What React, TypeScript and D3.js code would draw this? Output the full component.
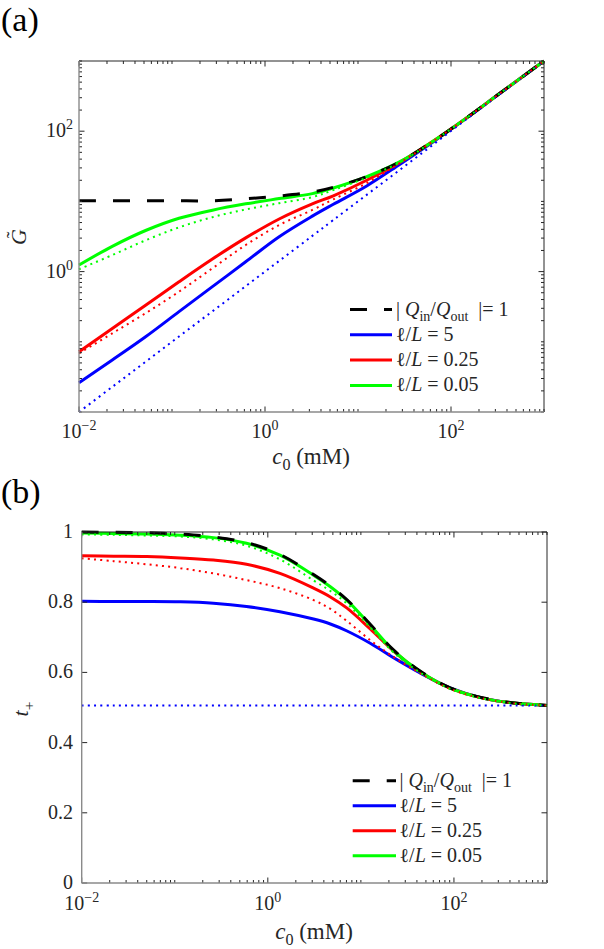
import { useEffect, useRef } from 'react'
import * as d3 from 'd3'

// (a) dimensionless conductance vs bulk concentration c0 (mM)
const cA = [0.01, 0.0228, 0.052, 0.119, 0.272, 0.62, 1.42, 3.23, 5.43, 12.4, 28.3, 64.6, 148, 336, 1000]
const gQ1 = [10.2, 10.2, 10.2, 10.2, 10.2, 10.9, 11.9, 13.6, 15.9, 22.5, 36.8, 72.4, 155.6, 346.7, 1000]
const gBlue = [0.0261, 0.0551, 0.118, 0.269, 0.61, 1.38, 3.14, 6.17, 9.1, 16.6, 33.9, 70.8, 155, 347, 1000]
const gBlueDot = [0.01, 0.0228, 0.052, 0.119, 0.272, 0.62, 1.42, 3.23, 5.43, 12.4, 28.3, 64.6, 150, 340, 1000]
const gRed = [0.0723, 0.155, 0.331, 0.716, 1.51, 3.02, 5.62, 9.23, 12.0, 20.0, 36.3, 72.4, 155.6, 346.7, 1000]
const gRedDot = [0.0685, 0.132, 0.255, 0.518, 1.114, 2.39, 4.61, 7.55, 10.7, 18.2, 35.5, 72.4, 155.6, 346.7, 1000]
const gGreen = [1.24, 2.29, 3.85, 5.75, 7.5, 9.23, 10.96, 12.9, 15.5, 22.5, 36.8, 72.4, 155.6, 346.7, 1000]
const gGreenDot = [1.08, 1.72, 2.79, 4.27, 5.96, 7.67, 9.44, 11.5, 14.5, 21.9, 36.3, 72.4, 155.6, 346.7, 1000]

// (b) transference number t+ vs c0 (mM)
const cB = [0.01, 0.022, 0.05, 0.115, 0.26, 0.59, 1.35, 3.1, 4.7, 7.1, 12.6, 22.4, 43.7, 91, 209, 468, 1000]
const tQ1 = [1.0, 0.999, 0.998, 0.994, 0.986, 0.97, 0.936, 0.879, 0.846, 0.807, 0.737, 0.664, 0.603, 0.556, 0.527, 0.512, 0.506]
const tBlue = [0.803, 0.802, 0.802, 0.801, 0.797, 0.788, 0.773, 0.752, 0.738, 0.718, 0.683, 0.642, 0.598, 0.556, 0.526, 0.512, 0.506]
const tBlueDot = [0.506, 0.506, 0.506, 0.506, 0.506, 0.506, 0.506, 0.506, 0.506, 0.506, 0.506, 0.506, 0.506, 0.506, 0.506, 0.506, 0.506]
const tRed = [0.932, 0.931, 0.93, 0.926, 0.92, 0.908, 0.882, 0.84, 0.815, 0.783, 0.724, 0.661, 0.601, 0.555, 0.526, 0.512, 0.506]
const tRedDot = [0.925, 0.917, 0.908, 0.897, 0.882, 0.863, 0.84, 0.806, 0.781, 0.746, 0.692, 0.644, 0.597, 0.553, 0.525, 0.511, 0.506]
const tGreen = [0.997, 0.996, 0.994, 0.991, 0.984, 0.968, 0.934, 0.877, 0.844, 0.805, 0.735, 0.662, 0.602, 0.555, 0.526, 0.512, 0.506]
const tGreenDot = [0.993, 0.992, 0.99, 0.987, 0.979, 0.961, 0.922, 0.862, 0.832, 0.796, 0.728, 0.657, 0.599, 0.553, 0.525, 0.511, 0.506]

const xMajor = [0.01, 1, 100]
const yMajorA = [1, 100]
const yTicksB = [0, 0.2, 0.4, 0.6, 0.8, 1]
const ratios = ['5', '0.25', '0.05']

const FONT = '"Liberation Serif", "DejaVu Serif", "Times New Roman", serif'
const TXT = '#262626'
const BLUE = '#0000ff', RED = '#ff0000', GREEN = '#00ff00'

type Kind = 'solid' | 'dash' | 'dot'
type Part = string | { t: string; i?: boolean; sub?: boolean }

function styled(sel: any, kind: Kind, color: string) {
  sel.attr('fill', 'none').attr('stroke', color)
  if (kind === 'solid') sel.attr('stroke-width', 3)
  if (kind === 'dash') sel.attr('stroke-width', 3).attr('stroke-dasharray', '17 17')
  if (kind === 'dot') sel.attr('stroke-width', 2).attr('stroke-dasharray', '2 4.2')
  return sel
}

function txt(g: any, size: number) {
  return g.append('text').style('font-family', FONT).style('font-size', size + 'px').attr('fill', TXT)
}

function rich(t: any, parts: Part[], size: number) {
  let shift = 0
  parts.forEach(p => {
    const q = typeof p === 'string' ? { t: p } : p
    const want = q.sub ? size * 0.28 : 0
    const s = t.append('tspan').text(q.t)
    if (want !== shift) { s.attr('dy', want - shift); shift = want }
    if (q.i) s.style('font-style', 'italic')
    if (q.sub) s.style('font-size', size * 0.7 + 'px')
  })
}

function pow10(g: any, x: number, y: number, e: number, anchor: string) {
  const t = txt(g, 20).attr('x', x).attr('y', y).attr('text-anchor', anchor)
  t.append('tspan').text('10')
  t.append('tspan').attr('dy', -8).style('font-size', '14px').text(e < 0 ? '\u2212' + (-e) : String(e))
}

function frame(g: any, x: any, y: any, xT: number[], xM: number[], yT: number[], yM: number[]) {
  const [x0, x1] = x.range(), [y1, y0] = y.range()
  yT.forEach(v => {
    const L = yM.includes(v) ? 5.5 : 3
    g.append('line').attr('x1', x0).attr('x2', x0 + L).attr('y1', y(v)).attr('y2', y(v)).attr('stroke', TXT)
    g.append('line').attr('x1', x1).attr('x2', x1 - L).attr('y1', y(v)).attr('y2', y(v)).attr('stroke', TXT)
  })
  xT.forEach(v => {
    const L = xM.includes(v) ? 5.5 : 3
    g.append('line').attr('x1', x(v)).attr('x2', x(v)).attr('y1', y1).attr('y2', y1 - L).attr('stroke', TXT)
    g.append('line').attr('x1', x(v)).attr('x2', x(v)).attr('y1', y0).attr('y2', y0 + L).attr('stroke', TXT)
  })
  g.append('line').attr('x1', x0).attr('x2', x1).attr('y1', y0).attr('y2', y0).attr('stroke', TXT)
  g.append('line').attr('x1', x1).attr('x2', x1).attr('y1', y0).attr('y2', y1).attr('stroke', TXT)
  g.append('line').attr('x1', x0).attr('x2', x0).attr('y1', y0).attr('y2', y1).attr('stroke', '#8a8a8a').attr('stroke-width', 1.4)
  g.append('line').attr('x1', x0).attr('x2', x1).attr('y1', y1).attr('y2', y1).attr('stroke', '#8a8a8a').attr('stroke-width', 1.4)
}

function curves(g: any, x: any, y: any, list: [number[], number[], Kind, string][]) {
  const line = d3.line<[number, number]>().x(d => x(d[0])).y(d => y(d[1])).curve(d3.curveCatmullRom.alpha(0.5))
  list.forEach(([c, v, kind, color]) => {
    styled(g.append('path').attr('d', line(d3.zip(c, v) as [number, number][])), kind, color)
  })
}

function legend(g: any, lx0: number, lx1: number, tx: number, ry: number, step: number) {
  const rows: [Kind, string, Part[]][] = [
    ['dash', '#000', ['| ', { t: 'Q', i: true }, { t: 'in', sub: true }, '/', { t: 'Q', i: true }, { t: 'out', sub: true }, '  |= 1']],
    ...ratios.map((r, k) => ['solid', [BLUE, RED, GREEN][k], ['\u2113/', { t: 'L', i: true }, ' = ' + r]] as [Kind, string, Part[]]),
  ]
  rows.forEach(([kind, color, parts], k) => {
    const yy = ry + k * step
    styled(g.append('line').attr('x1', lx0).attr('x2', lx1).attr('y1', yy).attr('y2', yy), kind, color)
    const t = txt(g, 20).attr('x', tx).attr('y', yy + 6).attr('xml:space', 'preserve')
    rich(t, parts, 20)
  })
}

export default function App() {
  const ref = useRef<SVGSVGElement>(null)

  useEffect(() => {
    const svg = d3.select(ref.current!)
    svg.selectAll('*').remove()
    const g = svg.append('g')

    const xA = d3.scaleLog().domain([1e-2, 1e3]).range([79, 544])
    const yA = d3.scaleLog().domain([1e-2, 1e3]).range([412, 61])
    const xB = d3.scaleLog().domain([1e-2, 1e3]).range([81.7, 547])
    const yB = d3.scaleLinear().domain([0, 1]).range([883, 532])

    // panel labels
    txt(g, 34).attr('x', 1).attr('y', 31).attr('fill', '#000').text('(a)')
    txt(g, 34).attr('x', 1).attr('y', 503).attr('fill', '#000').text('(b)')

    // (a)
    curves(g, xA, yA, [
      [cA, gBlue, 'solid', BLUE], [cA, gRed, 'solid', RED], [cA, gGreen, 'solid', GREEN],
      [cA, gQ1, 'dash', '#000'],
      [cA, gBlueDot, 'dot', BLUE], [cA, gRedDot, 'dot', RED], [cA, gGreenDot, 'dot', GREEN],
    ])
    frame(g, xA, yA, xA.ticks(), xMajor, yA.ticks(), yMajorA)
    xMajor.forEach(v => pow10(g, xA(v), 438, Math.round(Math.log10(v)), 'middle'))
    yMajorA.forEach(v => pow10(g, 73, yA(v) + 6, Math.round(Math.log10(v)), 'end'))
    legend(g, 350, 392, 396, 309.5, 25.3)

    // (b)
    curves(g, xB, yB, [
      [cB, tBlue, 'solid', BLUE], [cB, tRed, 'solid', RED], [cB, tGreen, 'solid', GREEN],
      [cB, tQ1, 'dash', '#000'],
      [cB, tBlueDot, 'dot', BLUE], [cB, tRedDot, 'dot', RED], [cB, tGreenDot, 'dot', GREEN],
    ])
    frame(g, xB, yB, xB.ticks(), xMajor, yTicksB, yTicksB)
    xMajor.forEach(v => pow10(g, xB(v), 910, Math.round(Math.log10(v)), 'middle'))
    yTicksB.forEach(v => txt(g, 20).attr('x', 73).attr('y', yB(v) + 6).attr('text-anchor', 'end').text(String(v)))
    legend(g, 352.7, 396, 399.5, 780.7, 25)

    // axis titles
    const xt = (cx: number, by: number) => {
      const t = txt(g, 23).attr('x', cx).attr('y', by).attr('text-anchor', 'middle').attr('xml:space', 'preserve')
      rich(t, [{ t: 'c', i: true }, { t: '0', sub: true }, ' (mM)'], 23)
    }
    xt(311, 464)
    xt(314, 939)

    const ga = g.append('g').attr('transform', 'translate(26,237) rotate(-90)')
    txt(ga, 22).attr('text-anchor', 'middle').style('font-style', 'italic').text('G')
    txt(ga, 20).attr('x', 2).attr('y', -5).attr('text-anchor', 'middle').text('\u02DC')

    const gb = g.append('g').attr('transform', 'translate(28,709) rotate(-90)')
    const tb = txt(gb, 22).attr('text-anchor', 'middle')
    rich(tb, [{ t: 't', i: true }, { t: '+', sub: true }], 22)
  }, [])

  return <svg ref={ref} width={604} height={949} style={{ position: 'absolute', left: 0, top: 0, background: '#fff' }} />
}
